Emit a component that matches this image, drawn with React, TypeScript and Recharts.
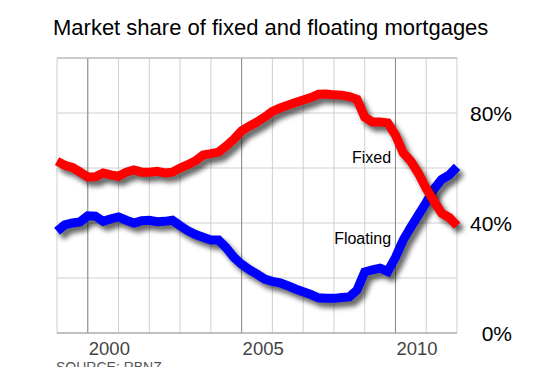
import React from 'react';
import {
  LineChart,
  Line,
  XAxis,
  YAxis,
  CartesianGrid,
  ReferenceLine,
  ReferenceDot,
} from 'recharts';

// quarterly observations, share of mortgages (%)
const periods = [
  1999, 1999.25, 1999.5, 1999.75, 2000, 2000.25, 2000.5, 2000.75,
  2001, 2001.25, 2001.5, 2001.75, 2002, 2002.25, 2002.5, 2002.75,
  2003, 2003.25, 2003.5, 2003.75, 2004, 2004.25, 2004.5, 2004.75,
  2005, 2005.25, 2005.5, 2005.75, 2006, 2006.25, 2006.5, 2006.75,
  2007, 2007.25, 2007.5, 2007.75, 2008, 2008.25, 2008.5, 2008.75,
  2009, 2009.25, 2009.5, 2009.75, 2010, 2010.25, 2010.5, 2010.75,
  2011, 2011.25, 2011.5, 2011.75, 2012,
];

const fixed = [
  62.5, 61, 60.2, 58.5, 56.7, 56.8, 58.2, 57.5,
  57, 58.5, 59.3, 58.5, 58.5, 58.8, 58.2, 58.5,
  60, 61.2, 62.6, 64.7, 65.2, 65.8, 68, 70.5,
  73.5, 75.2, 76.7, 78.5, 80.6, 81.8, 82.8, 83.8,
  84.7, 85.6, 86.8, 86.9, 86.6, 86.5, 86, 85,
  78.5, 76.7, 76.7, 76.4, 72, 65.5, 62.5, 58,
  52.5, 48, 43.6, 42, 39,
];

const floating = [
  37, 39.3, 40, 40.4, 42.6, 42.5, 40.6, 41.5,
  42.2, 41, 40, 40.8, 41, 40.5, 40.6, 41,
  39, 37.2, 35.8, 34.8, 33.8, 33.8, 31, 27.5,
  25, 23, 21.4, 19.6, 18.8, 18.2, 17.2, 16,
  15, 14, 12.8, 12.6, 12.6, 12.9, 13.1, 15.6,
  22.2, 23, 23.6, 22.4, 27.5, 33.8, 38.5, 43,
  47.5, 52.3, 55.8, 57.5, 60.4,
];

const yearTicks = [1999, 2000, 2001, 2002, 2003, 2004, 2005, 2006, 2007, 2008, 2009, 2010, 2011, 2012];
const labelledYears = [2000, 2005, 2010];
const pctTicks = [0, 20, 40, 60, 80, 100];
const labelledPct = [0, 40, 80];

const data = periods.map((t, i) => ({ t, fixed: fixed[i], floating: floating[i] }));

const FONT = "Arial, 'Liberation Sans', sans-serif";
const SHADOW = { filter: 'drop-shadow(4px 5px 2.5px rgba(0,0,0,0.6))' };

const YearTick = (props: any) => {
  const { x, y, payload } = props;
  if (!labelledYears.includes(payload.value)) return null;
  return (
    <text x={x + 1} y={y} dy={22} textAnchor="start" fontSize={18.5} fill="#444" fontFamily={FONT}>
      {payload.value}
    </text>
  );
};

const PctTick = (props: any) => {
  const { x, y, payload } = props;
  if (!labelledPct.includes(payload.value)) return null;
  return (
    <text x={x + 55} y={y} dy={7.5} textAnchor="end" fontSize={21} fill="#000" fontFamily={FONT}>
      {payload.value}%
    </text>
  );
};

export default function App() {
  return (
    <div style={{ position: 'relative', margin: -8, width: 550, height: 375, fontFamily: FONT }}>
      <LineChart width={550} height={375} data={data} margin={{ top: 58, right: 38, bottom: 12, left: 57 }}>
        <CartesianGrid stroke="#cfcfcf" strokeWidth={1} />
        {labelledYears.map((yr) => (
          <ReferenceLine key={yr} x={yr} stroke="#8a8a8a" strokeWidth={1} />
        ))}
        <ReferenceLine y={100} stroke="#b0b0b0" />
        <XAxis
          dataKey="t"
          type="number"
          domain={[1999, 2012]}
          ticks={yearTicks}
          interval={0}
          height={30}
          tickSize={0}
          tickMargin={0}
          tickLine={false}
          axisLine={{ stroke: '#999' }}
          tick={<YearTick />}
        />
        <YAxis
          orientation="right"
          type="number"
          domain={[0, 100]}
          ticks={pctTicks}
          interval={0}
          width={55}
          tickSize={0}
          tickMargin={0}
          tickLine={false}
          axisLine={false}
          tick={<PctTick />}
        />
        <Line
          type="linear"
          dataKey="floating"
          stroke="#0000ff"
          strokeWidth={9}
          dot={false}
          style={SHADOW}
          isAnimationActive={false}
        />
        <Line
          type="linear"
          dataKey="fixed"
          stroke="#ff0000"
          strokeWidth={9}
          dot={false}
          style={SHADOW}
          isAnimationActive={false}
        />
        <ReferenceDot
          x={2009.89}
          y={64}
          r={1}
          fill="none"
          stroke="none"
          label={{ value: 'Fixed', position: 'left', offset: 0, fontSize: 16, fill: '#000', fontFamily: FONT }}
        />
        <ReferenceDot
          x={2009.89}
          y={34.5}
          r={1}
          fill="none"
          stroke="none"
          label={{ value: 'Floating', position: 'left', offset: 0, fontSize: 16, fill: '#000', fontFamily: FONT }}
        />
      </LineChart>
      <div style={{ position: 'absolute', left: 53, top: 17, fontSize: 22, lineHeight: '21px', color: '#000', whiteSpace: 'nowrap' }}>
        Market share of fixed and floating mortgages
      </div>
      <div style={{ position: 'absolute', left: 56, top: 360, fontSize: 14, lineHeight: '14px', color: '#555', whiteSpace: 'nowrap' }}>
        SOURCE: RBNZ
      </div>
    </div>
  );
}
